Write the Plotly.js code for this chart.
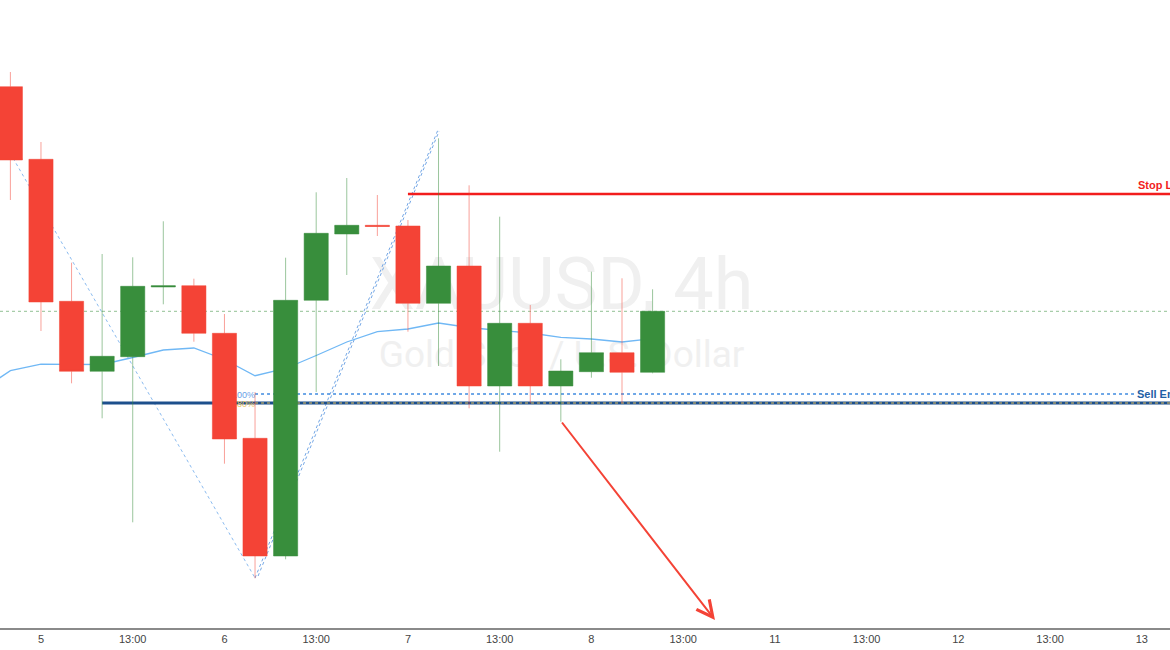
<!DOCTYPE html>
<html><head><meta charset="utf-8">
<script src="https://cdn.plot.ly/plotly-3.0.1.min.js"></script>
<style>html,body{margin:0;padding:0;background:#fff}#chart{width:1170px;height:650px}</style>
</head><body><div id="chart"></div>
<script>
// 4h candles, XAUUSD
const times = ['4 21:00','5 01:00','5 05:00','5 09:00','5 13:00','5 17:00','5 21:00',
  '6 01:00','6 05:00','6 09:00','6 13:00','6 17:00','6 21:00',
  '7 01:00','7 05:00','7 09:00','7 13:00','7 17:00','7 21:00',
  '8 01:00','8 05:00','8 09:00'];
const open  = [2051.33,2044.07,2029.87,2022.87,2024.33,2031.30,2031.43,2026.67,2016.17,2004.40,2029.97,2036.60,2037.47,2037.40,2029.67,2033.40,2021.40,2027.67,2021.40,2022.83,2024.73,2022.77];
const high  = [2052.80,2045.80,2033.73,2034.60,2034.27,2037.87,2032.13,2028.60,2020.80,2034.23,2040.77,2042.20,2040.50,2038.00,2046.17,2041.47,2038.33,2029.50,2024.07,2032.83,2032.17,2031.07];
const low   = [2040.00,2026.90,2021.67,2018.17,2007.77,2029.57,2025.83,2013.63,2002.17,2004.07,2020.80,2032.50,2036.40,2026.83,2023.40,2019.17,2014.83,2019.67,2017.83,2022.23,2019.67,2022.67];
const close = [2044.00,2029.80,2022.87,2024.37,2031.37,2031.43,2026.67,2016.10,2004.40,2029.97,2036.67,2037.47,2037.35,2029.67,2033.40,2021.40,2027.67,2021.40,2022.90,2024.73,2022.77,2028.87];
// moving average (first value belongs to the candle before the visible one)
const ma = [2020.90,2022.93,2023.58,2023.57,2023.55,2024.25,2025.00,2025.20,2024.05,2022.43,2023.15,2024.45,2025.80,2026.83,2027.10,2027.70,2027.25,2026.95,2026.70,2026.27,2026.10,2025.80,2026.14];
// axis days (6 four-hour slots per day, weekend skipped)
const axisDays = ['5','6','7','8','11','12','13'];
const slotHours = ['01:00','05:00','09:00','13:00','17:00','21:00'];
// drawing levels
const stopLoss = 2040.6;
const sellEntry = 2019.7;
const fib100 = 2020.6;
const fib80 = 2019.7;
// drawing anchors [slot, price]
const trend1 = [[-0.5,2047.3],[8.0,2002.2]];
const trend2 = [[8.0,2002.2],[13.98,2047.0]];
const trend3 = [[8.1,2002.4],[14.02,2046.9]];
const arrowPts = [[18.0,2017.9],[23.04,1998.0]];

const xIdx = times.map((t,i)=>i);
const maX = ma.map((v,i)=>i-1);
const lastClose = close[close.length-1];

const tickvals = [], ticktext = [];
axisDays.forEach((d,k)=>{
  const base = 1 + 6*k;
  tickvals.push(base); ticktext.push(d);
  tickvals.push(base+3); ticktext.push(slotHours[3]);
});
tickvals.pop(); ticktext.pop(); // nothing after "13"

const RED='#f44336', GREEN='#388e3c';
const candle = {
  type:'candlestick', x:xIdx, open, high, low, close, text: times,
  increasing:{fillcolor:GREEN, line:{color:'rgba(56,142,60,0.5)', width:1}},
  decreasing:{fillcolor:RED, line:{color:'rgba(244,67,54,0.5)', width:1}},
  whiskerwidth:0, hoverinfo:'x+text', showlegend:false
};

const maPath = ma.map((v,i)=>(i?'L':'M')+maX[i]+','+v).join(' ');
function seg(p, color, width, dash){
  return {type:'line', xref:'x', yref:'y', x0:p[0][0], y0:p[0][1], x1:p[1][0], y1:p[1][1],
    line:{color, width, dash}, layer:'below'};
}
const shapes = [
  {type:'rect', xref:'paper', yref:'paper', x0:0.25, x1:0.71, y0:0.495, y1:0.615, line:{width:0}, fillcolor:'rgba(0,0,0,0)', layer:'below',
   label:{text:'XAUUSD, 4h', font:{family:'Roboto', size:72, color:'#f0f0f0'}, textposition:'middle center'}},
  {type:'rect', xref:'paper', yref:'paper', x0:0.25, x1:0.71, y0:0.405, y1:0.475, line:{width:0}, fillcolor:'rgba(0,0,0,0)', layer:'below',
   label:{text:'Gold Spot / U.S. Dollar', font:{family:'Roboto', size:37, color:'#f0f0f0'}, textposition:'middle center'}},
  {type:'line', xref:'paper', yref:'y', x0:0, x1:1, y0:lastClose, y1:lastClose, line:{color:'rgba(56,142,60,0.55)', width:1, dash:'dot'}, layer:'below'},
  {type:'path', xref:'x', yref:'y', path:maPath, line:{color:'#70b8f5', width:1.3}, layer:'below'},
  seg(trend1, 'rgba(110,170,235,0.8)', 1, 'dot'),
  seg(trend2, 'rgba(90,150,225,0.85)', 1, 'dot'),
  seg(trend3, 'rgba(90,150,225,0.85)', 1, 'dot'),
  {type:'line', xref:'x', yref:'y', x0:3, x1:40, y0:sellEntry, y1:sellEntry, line:{color:'#1c4f8c', width:3}, layer:'below'},
  {type:'line', xref:'x', yref:'y', x0:8, x1:40, y0:fib100, y1:fib100, line:{color:'#3f8be0', width:1.5, dash:'dot'}, layer:'below',
   label:{text:'100%', font:{family:'Liberation Sans', size:9, color:'#6aa2e6'}, textposition:'start', xanchor:'right', yanchor:'middle', padding:3}},
  {type:'line', xref:'x', yref:'y', x0:8, x1:40, y0:fib80, y1:fib80, line:{color:'#e9c25c', width:1.2, dash:'dot'}, layer:'below',
   label:{text:'80%', font:{family:'Liberation Sans', size:9, color:'#ecc566'}, textposition:'start', xanchor:'right', yanchor:'middle', padding:3}},
  {type:'line', xref:'x', yref:'y', x0:13, x1:40, y0:stopLoss, y1:stopLoss, line:{color:'#f21d1d', width:2.5}, layer:'below'}
];

const annotations = [
  {x:36.81, y:stopLoss+0.9, xref:'x', yref:'y', text:'<b>Stop Loss</b>', showarrow:false, xanchor:'left', yanchor:'middle',
   font:{family:'Liberation Sans', size:11, color:'#f21d1d'}},
  {x:36.81, y:fib100, xref:'x', yref:'y', text:'<b>Sell Entry</b>', showarrow:false, xanchor:'left', yanchor:'middle',
   bgcolor:'#ffffff', borderpad:0, font:{family:'Liberation Sans', size:11, color:'#1f5fa6'}},
  {x:arrowPts[1][0], y:arrowPts[1][1], ax:arrowPts[0][0], ay:arrowPts[0][1], xref:'x', yref:'y', axref:'x', ayref:'y',
   text:'', showarrow:true, arrowhead:5, arrowsize:1.6, arrowwidth:2, arrowcolor:'#f44336'}
];

const layout = {
  width:1170, height:650,
  margin:{l:0, r:0, t:0, b:22, pad:0},
  paper_bgcolor:'#ffffff', plot_bgcolor:'#ffffff',
  showlegend:false, boxgap:0.21, boxgroupgap:0,
  xaxis:{type:'linear', range:[-0.34, 37.92], rangeslider:{visible:false}, showgrid:false, zeroline:false,
    showline:true, linecolor:'#8a8a8a', linewidth:2, ticks:'', tickvals, ticktext,
    tickfont:{family:'Liberation Sans Narrow, Liberation Sans, sans-serif', size:11, color:'#444'}, fixedrange:true},
  yaxis:{range:[1997.2, 2060], visible:false, showgrid:false, zeroline:false, fixedrange:true},
  shapes, annotations
};

Plotly.newPlot('chart', [candle], layout, {displayModeBar:false, staticPlot:true});
</script>
</body></html>
